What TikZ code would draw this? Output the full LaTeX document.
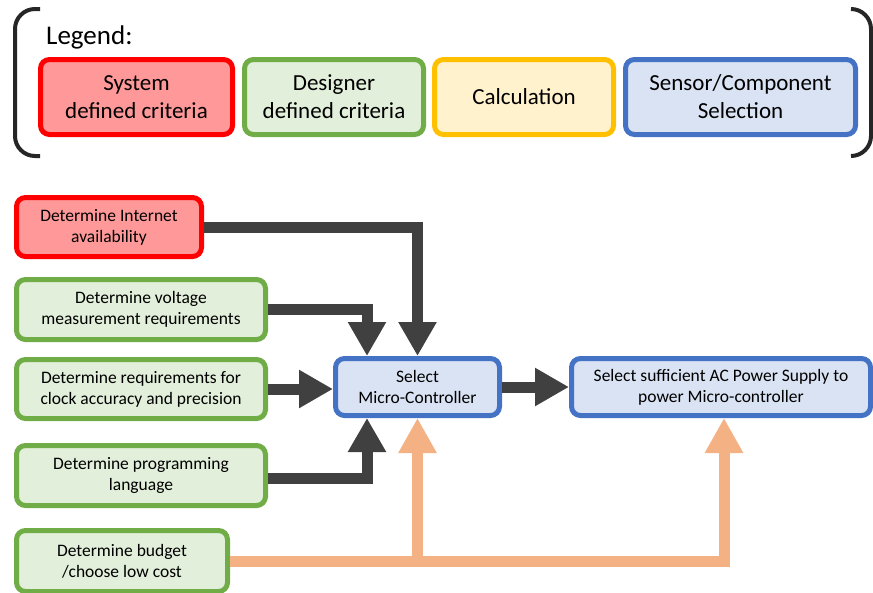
\documentclass[tikz,border=0pt]{standalone}
\usepackage{fontspec}
\setmainfont{Carlito}
\usetikzlibrary{arrows.meta}

\definecolor{sysline}{HTML}{FF0000}
\definecolor{sysfill}{HTML}{FF9999}
\definecolor{desline}{HTML}{70AD47}
\definecolor{desfill}{HTML}{E2EFDA}
\definecolor{calcline}{HTML}{FFC000}
\definecolor{calcfill}{HTML}{FFF2CC}
\definecolor{selline}{HTML}{4472C4}
\definecolor{selfill}{HTML}{DAE3F3}
\definecolor{darkarrow}{HTML}{404040}
\definecolor{peach}{HTML}{F4B183}
\definecolor{brackcol}{HTML}{262626}

\tikzset{
  box/.style={draw, line width=5pt, rounded corners=9pt, align=center, inner sep=2pt,
    font=\fontsize{17.5}{21}\selectfont},
  sysbox/.style={box, draw=sysline, fill=sysfill},
  desbox/.style={box, draw=desline, fill=desfill},
  calcbox/.style={box, draw=calcline, fill=calcfill},
  selbox/.style={box, draw=selline, fill=selfill},
  legitem/.style={minimum height=75pt, font=\fontsize{23}{28}\selectfont},
  darrow/.style={draw=darkarrow, line width=11pt, -{Triangle[length=34pt,width=36pt]}},
  oarrow/.style={draw=peach, line width=11pt, -{Triangle[length=35pt,width=36pt]}},
  bracket/.style={draw=brackcol, line width=4pt, rounded corners=20pt}
}

\begin{document}
\begin{tikzpicture}[x=1pt,y=-1pt]
    \useasboundingbox (0,0) rectangle (873,592);
    % legend
    \draw[bracket] (40,9) -- (15,9) -- (15,156) -- (40,156);
    \draw[bracket] (851,9) -- (871,9) -- (871,156) -- (851,156);
    \node[anchor=west, inner sep=0pt, font=\fontsize{27}{32}\selectfont] (legtitle) at (46,37) {Legend:};
    \node[sysbox, legitem, minimum width=192pt] (legsys) at (136.5,97) {System\\defined criteria};
    \node[desbox, legitem, minimum width=179pt] (legdes) at (334,97) {Designer\\defined criteria};
    \node[calcbox, legitem, minimum width=179pt] (legcalc) at (524,97) {Calculation};
    \node[selbox, legitem, minimum width=230pt] (legsel) at (740.5,97) {Sensor/Component\\Selection};

    % criteria
    \node[sysbox, minimum width=185pt, minimum height=59pt] (inet) at (109,227) {Determine Internet\\availability};
    \node[desbox, minimum width=249pt, minimum height=60pt] (volt) at (141,309.5) {Determine voltage\\measurement requirements};
    \node[desbox, minimum width=249pt, minimum height=59pt] (clock) at (141,389) {Determine requirements for\\clock accuracy and precision};
    \node[desbox, minimum width=249pt, minimum height=60pt] (prog) at (141,475.5) {Determine programming\\language};
    \node[desbox, minimum width=211pt, minimum height=61pt] (budget) at (122,561) {Determine budget\\/choose low cost};

    % selections
    \node[selbox, minimum width=164pt, minimum height=57pt] (mc) at (417.5,387) {Select\\Micro-Controller};
    \node[selbox, minimum width=299pt, minimum height=57pt] (ac) at (721,387) {Select sufficient AC Power Supply to\\power Micro-controller};

    % connectors
    \draw[darrow] (inet.east) -| (mc.north);
    \draw[darrow] (volt.east) -| ([xshift=-50.5pt]mc.north);
    \draw[darrow] (clock.east) -- (clock.east -| mc.west);
    \draw[darrow] ([yshift=-2.5pt]prog.east) -| ([xshift=-50.5pt]mc.south);
    \draw[darrow] (mc.east) -- (mc.east -| ac.west);
    \draw[oarrow] (budget.east) -| (mc.south);
    \draw[oarrow] (budget.east) -| ([xshift=3pt]ac.south);
\end{tikzpicture}
\end{document}
